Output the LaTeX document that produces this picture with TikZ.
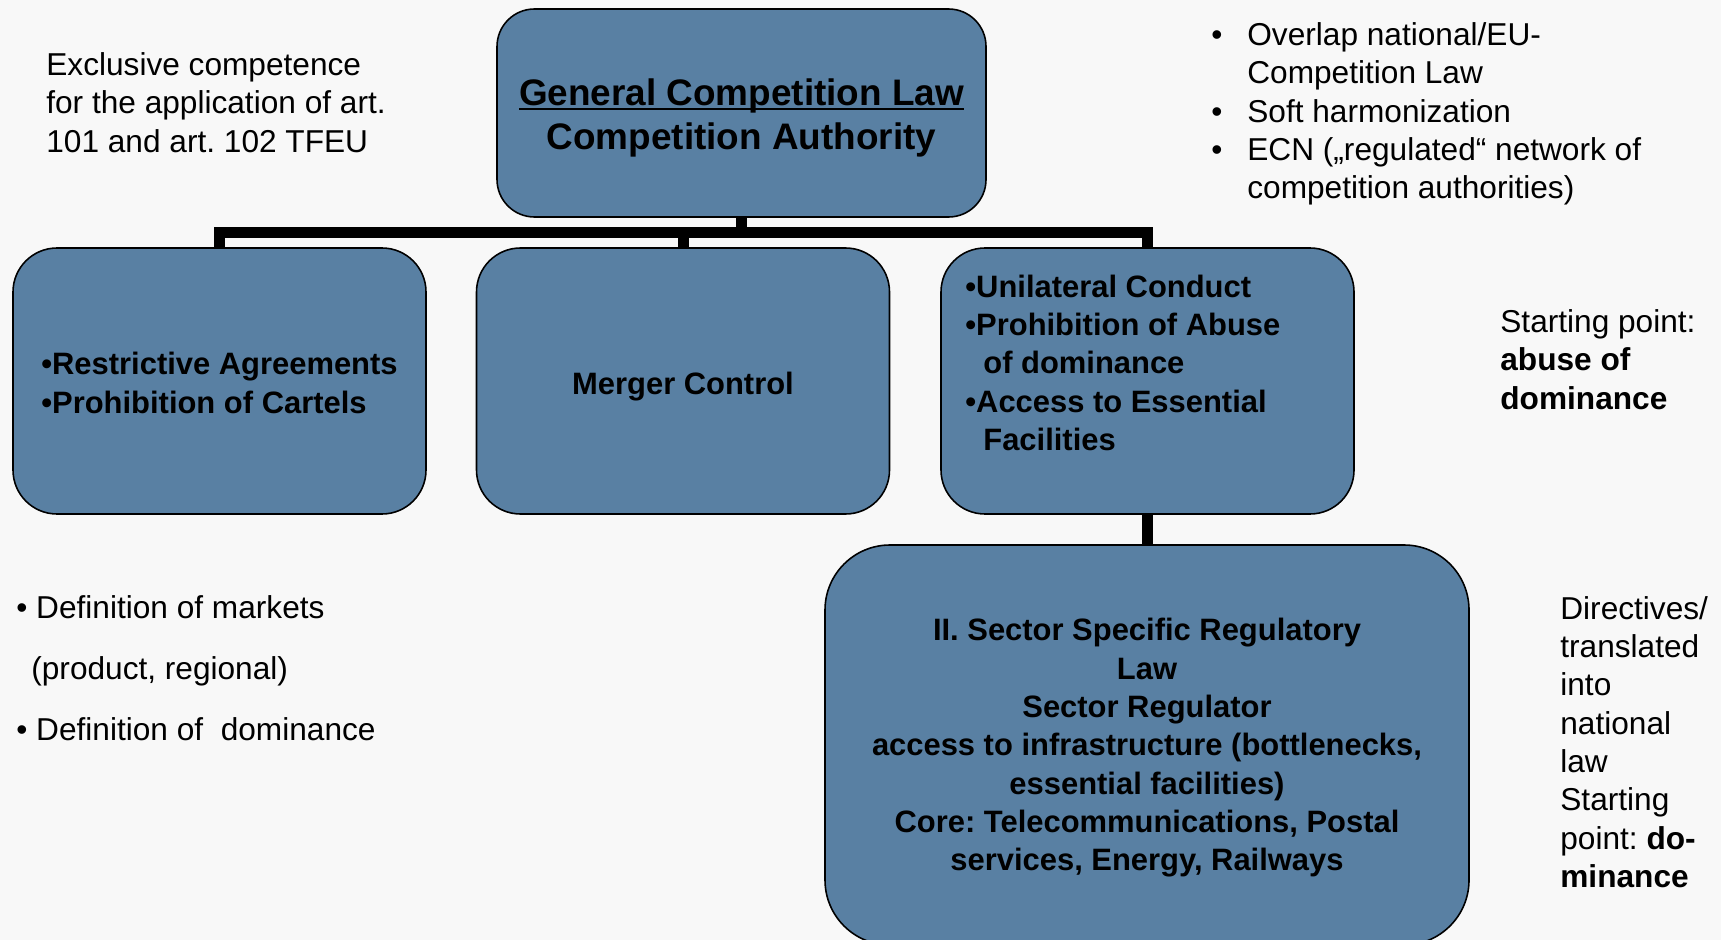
\documentclass[tikz,border=0pt]{standalone}
\usepackage{fontspec}
\setmainfont{Liberation Sans}
\usepackage{xcolor}
\usetikzlibrary{positioning}

\definecolor{boxblue}{RGB}{89,128,163}
\definecolor{paper}{RGB}{248,248,248}

\newcommand{\plainfont}{\fontsize{18}{21.7}\selectfont}
\newcommand{\boxfont}{\fontsize{17.6}{21.8}\selectfont\bfseries}
\newcommand{\titlefont}{\fontsize{21}{25.3}\selectfont\bfseries}
\newcommand{\lawline}[1]{\setbox0\hbox{#1}\rlap{\rule[-0.13em]{\wd0}{0.07em}}\box0}
\newcommand{\notebullet}{\makebox[0.72cm][l]{•}}
\newcommand{\toppad}[1]{\rule{0pt}{#1}}

\tikzset{
    box/.style={draw=black, line width=0.9pt, fill=boxblue, rounded corners=0.88cm,
        minimum width=8.26cm, minimum height=5.32cm, inner sep=0pt, font=\boxfont, align=center},
    link/.style={line width=0.22cm, line join=miter},
    note/.style={inner sep=0pt, anchor=north west, align=left, font=\plainfont},
}

\begin{document}
\frenchspacing
\begin{tikzpicture}
    % canvas
    \path[use as bounding box, fill=paper] (0,0) rectangle (34.42,-18.8);
    \clip (0,0) rectangle (34.42,-18.8);
    % boxes
    \node[box, minimum width=9.78cm, minimum height=4.16cm, rounded corners=0.75cm, font=\titlefont]
        (law) at (14.83,-2.26) {\toppad{0.74cm}\lawline{General Competition Law}\\Competition Authority};
    \node[box, align=left] (cartels) at (4.39,-7.62) {\toppad{0.53cm}•Restrictive Agreements\\•Prohibition of Cartels};
    \node[box] (merger) at (13.66,-7.62) {\toppad{0.67cm}Merger Control};
    \node[box] (abuse) at (22.95,-7.62) {};
    \node[note, font=\boxfont] (abusetext) at (19.30,-5.49)
        {•Unilateral Conduct\\•Prohibition of Abuse\\\hspace*{0.36cm}of dominance\\•Access to Essential\\\hspace*{0.36cm}Facilities};
    \node[box, minimum width=12.88cm, minimum height=8cm, rounded corners=1.3cm] (sector) at (22.94,-14.9)
        {\toppad{0.56cm}II. Sector Specific Regulatory\\Law\\Sector Regulator\\access to infrastructure (bottlenecks,\\essential facilities)\\Core: Telecommunications, Postal\\services, Energy, Railways};
    % connectors
    \coordinate (bar) at (0,-4.66);
    \draw[link] (law.south) -- (law.south |- bar);
    \draw[link] (cartels.north) -- (cartels.north |- bar) -- (abuse.north |- bar) -- (abuse.north);
    \draw[link] (merger.north) -- (merger.north |- bar);
    \draw[link] (abuse.south) -- (abuse.south |- sector.north);
    % side notes
    \node[note] (competence) at (0.92,-1.05) {Exclusive competence\\for the application of art.\\101 and art. 102 TFEU};
    \node[note] (overlap) at (24.22,-0.45) {\notebullet Overlap national/EU-\\\hspace*{0.72cm}Competition Law\\\notebullet Soft harmonization\\\notebullet ECN („regulated“ network of\\\hspace*{0.72cm}competition authorities)};
    \node[note] (startabuse) at (30.0,-6.19) {Starting point:\\\textbf{abuse of}\\\textbf{dominance}};
    \node[note, font=\fontsize{18}{34.7}\selectfont] (definitions) at (0.32,-11.91)
        {• Definition of markets\\\hspace*{0.3cm}(product, regional)\\• Definition of\ \ dominance};
    \node[note, font=\fontsize{18}{21.8}\selectfont] (directives) at (31.2,-11.92)
        {Directives/\\translated\\into\\national\\law\\Starting\\point: \textbf{do-}\\\textbf{minance}};
\end{tikzpicture}
\end{document}
